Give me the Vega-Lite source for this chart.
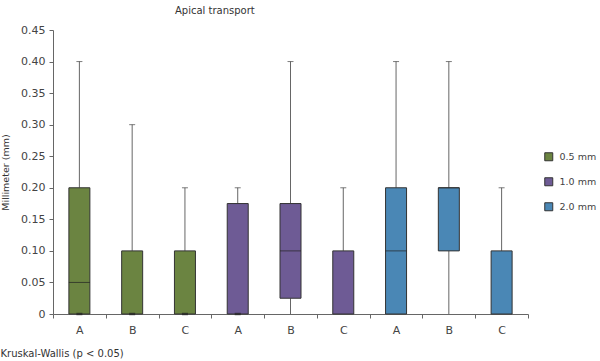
{
  "$schema": "https://vega.github.io/schema/vega-lite/v6.json",
  "autosize": "none",
  "width": 475,
  "height": 284,
  "padding": {"left": 53, "top": 30, "right": 72, "bottom": 47},
  "background": "white",
  "config": {
    "font": "DejaVu Sans",
    "view": {"stroke": null},
    "title": {"font": "DejaVu Sans", "fontSize": 10, "fontWeight": "normal", "color": "#333"},
    "axisY": {
      "titleFont": "DejaVu Sans", "titleFontSize": 9.5, "titleFontWeight": "normal", "titleColor": "#333", "titlePadding": 10,
      "labelOverlap": false, "labelFontSize": 11, "labelColor": "#444", "labelPadding": 4,
      "tickSize": 4, "tickColor": "#666", "domainColor": "#666", "grid": false
    }
  },
  "title": {"text": "Apical transport", "anchor": "start", "dx": 175, "offset": 8},
  "data": {
    "values": [
      {"size": "0.5 mm", "pos": "0.5 A", "min": 0, "q1": 0, "med": 0.05, "q3": 0.20, "max": 0.40, "dash": 0},
      {"size": "0.5 mm", "pos": "0.5 B", "min": 0, "q1": 0, "med": 0, "q3": 0.10, "max": 0.30, "dash": 0},
      {"size": "0.5 mm", "pos": "0.5 C", "min": 0, "q1": 0, "med": 0, "q3": 0.10, "max": 0.20, "dash": 0},
      {"size": "1.0 mm", "pos": "1.0 A", "min": 0, "q1": 0, "med": 0, "q3": 0.175, "max": 0.20, "dash": 0},
      {"size": "1.0 mm", "pos": "1.0 B", "min": 0, "q1": 0.025, "med": 0.10, "q3": 0.175, "max": 0.40, "dash": null},
      {"size": "1.0 mm", "pos": "1.0 C", "min": 0, "q1": 0, "med": 0, "q3": 0.10, "max": 0.20, "dash": null},
      {"size": "2.0 mm", "pos": "2.0 A", "min": 0, "q1": 0, "med": 0.10, "q3": 0.20, "max": 0.40, "dash": null},
      {"size": "2.0 mm", "pos": "2.0 B", "min": 0, "q1": 0.10, "med": 0.20, "q3": 0.20, "max": 0.40, "dash": null},
      {"size": "2.0 mm", "pos": "2.0 C", "min": 0, "q1": 0, "med": 0, "q3": 0.10, "max": 0.20, "dash": null}
    ]
  },
  "encoding": {
    "x": {
      "field": "pos", "type": "nominal", "sort": null,
      "scale": {"paddingInner": 0, "paddingOuter": 0},
      "axis": {
        "title": "Kruskal-Wallis (p < 0.05)",
        "titleAnchor": "start", "titleAlign": "left", "titleBaseline": "alphabetic",
        "titleX": -53, "titleY": 42,
        "titleFont": "DejaVu Sans", "titleFontSize": 10, "titleFontWeight": "normal", "titleColor": "#333",
        "labelExpr": "substring(datum.label, 4)",
        "labelAngle": 0, "labelFontSize": 11, "labelColor": "#444", "labelPadding": 6,
        "tickBand": "extent", "tickSize": 4, "tickColor": "#666", "domainColor": "#666",
        "grid": false
      }
    }
  },
  "layer": [
    {
      "mark": {"type": "rule", "color": "#666", "strokeWidth": 1},
      "encoding": {
        "y": {
          "field": "q3", "type": "quantitative",
          "scale": {"domain": [0, 0.45], "nice": false},
          "axis": {"title": "Millimeter (mm)", "values": [0, 0.05, 0.1, 0.15, 0.2, 0.25, 0.3, 0.35, 0.4, 0.45], "labelExpr": "datum.value < 0.001 ? '0' : format(datum.value, '.2f')"}
        },
        "y2": {"field": "max"}
      }
    },
    {
      "mark": {"type": "rule", "color": "#666", "strokeWidth": 1},
      "encoding": {
        "y": {"field": "min", "type": "quantitative",
          "axis": {"title": "Millimeter (mm)", "values": [0, 0.05, 0.1, 0.15, 0.2, 0.25, 0.3, 0.35, 0.4, 0.45], "labelExpr": "datum.value < 0.001 ? '0' : format(datum.value, '.2f')"}},
        "y2": {"field": "q1"}
      }
    },
    {
      "mark": {"type": "tick", "color": "#444", "size": 6, "thickness": 1},
      "encoding": {
        "y": {"field": "max", "type": "quantitative",
          "axis": {"title": "Millimeter (mm)", "values": [0, 0.05, 0.1, 0.15, 0.2, 0.25, 0.3, 0.35, 0.4, 0.45], "labelExpr": "datum.value < 0.001 ? '0' : format(datum.value, '.2f')"}}
      }
    },
    {
      "mark": {"type": "bar", "size": 21, "stroke": "#333", "strokeWidth": 1},
      "encoding": {
        "y": {"field": "q1", "type": "quantitative",
          "axis": {"title": "Millimeter (mm)", "values": [0, 0.05, 0.1, 0.15, 0.2, 0.25, 0.3, 0.35, 0.4, 0.45], "labelExpr": "datum.value < 0.001 ? '0' : format(datum.value, '.2f')"}},
        "y2": {"field": "q3"},
        "color": {
          "field": "size", "type": "nominal",
          "scale": {"domain": ["0.5 mm", "1.0 mm", "2.0 mm"], "range": ["#6b8441", "#6e5b95", "#4a87b5"]},
          "legend": {
            "title": null, "orient": "none", "legendX": 491, "legendY": 122,
            "symbolType": "square", "symbolSize": 64, "symbolStrokeColor": "#333", "symbolStrokeWidth": 1,
            "symbolOpacity": 1, "rowPadding": 12, "labelFontSize": 9.5, "labelColor": "#444", "labelOffset": 6
          }
        }
      }
    },
    {
      "transform": [{"filter": "datum.med > datum.q1"}],
      "mark": {"type": "tick", "color": "#222", "size": 21, "thickness": 1},
      "encoding": {
        "y": {"field": "med", "type": "quantitative",
          "axis": {"title": "Millimeter (mm)", "values": [0, 0.05, 0.1, 0.15, 0.2, 0.25, 0.3, 0.35, 0.4, 0.45], "labelExpr": "datum.value < 0.001 ? '0' : format(datum.value, '.2f')"}}
      }
    },
    {
      "transform": [{"filter": "datum.dash != null"}],
      "mark": {"type": "tick", "color": "#222", "size": 6, "thickness": 2.5},
      "encoding": {
        "y": {"field": "dash", "type": "quantitative",
          "axis": {"title": "Millimeter (mm)", "values": [0, 0.05, 0.1, 0.15, 0.2, 0.25, 0.3, 0.35, 0.4, 0.45], "labelExpr": "datum.value < 0.001 ? '0' : format(datum.value, '.2f')"}}
      }
    }
  ]
}
